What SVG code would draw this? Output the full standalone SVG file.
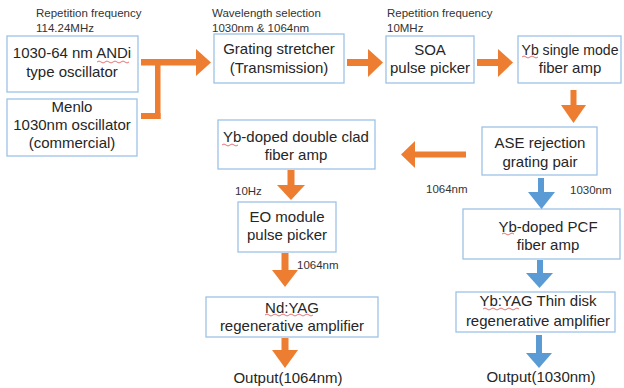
<svg xmlns="http://www.w3.org/2000/svg" width="624" height="388" viewBox="0 0 624 388">
<style>
.box{fill:#fff;stroke:#9DC3E6;stroke-width:1.3}
.t{font-family:"Liberation Sans",Arial,sans-serif;font-size:15px;fill:#262626;text-anchor:middle}
.s{font-family:"Liberation Sans",Arial,sans-serif;font-size:11.5px;fill:#333}
.o{fill:#ED7D31}
.b{fill:#5B9BD5}
.sq{fill:none;stroke:#E05050;stroke-width:0.8}
</style>
<rect width="624" height="388" fill="#fff"/>
<g id="labels">
<text class="s" x="36" y="17">Repetition frequency</text>
<text class="s" x="36" y="32">114.24MHz</text>
<text class="s" x="212" y="17">Wavelength selection</text>
<text class="s" x="212" y="32">1030nm &amp; 1064nm</text>
<text class="s" x="387" y="17">Repetition frequency</text>
<text class="s" x="387" y="32">10MHz</text>
<text class="s" x="426" y="193">1064nm</text>
<text class="s" x="570" y="194">1030nm</text>
<text class="s" x="235" y="195">10Hz</text>
<text class="s" x="297" y="269">1064nm</text>
</g>
<g id="andi">
<rect class="box" x="7" y="36" width="131" height="56"/>
<text class="t" x="72" y="58">1030-64 nm ANDi</text>
<text class="t" x="72" y="77">type oscillator</text>
<path class="sq" d="M97,62 q2,-2 4,0 t4,0 t4,0 t4,0 t4,0 t4,0 t4,0 t4,0"/>
</g>
<g id="menlo">
<rect class="box" x="7" y="99" width="130" height="57"/>
<text class="t" x="72" y="112">Menlo</text>
<text class="t" x="72" y="130">1030nm oscillator</text>
<text class="t" x="72" y="148">(commercial)</text>
</g>
<g id="stretcher">
<rect class="box" x="214" y="34" width="130" height="49"/>
<text class="t" x="279" y="54">Grating stretcher</text>
<text class="t" x="279" y="73">(Transmission)</text>
</g>
<g id="soa">
<rect class="box" x="386" y="36" width="88" height="47"/>
<text class="t" x="430" y="55">SOA</text>
<text class="t" x="430" y="73">pulse picker</text>
</g>
<g id="ybsm">
<rect class="box" x="518" y="36" width="103" height="47"/>
<text class="t" x="570" y="55" textLength="97" lengthAdjust="spacingAndGlyphs">Yb single mode</text>
<text class="t" x="570" y="73">fiber amp</text>
<path class="sq" d="M522,57 q2,-2 4,0 t4,0 t4,0 t4,0"/>
</g>
<g id="ase">
<rect class="box" x="482" y="127" width="115" height="48"/>
<text class="t" x="540" y="148">ASE rejection</text>
<text class="t" x="540" y="167">grating pair</text>
</g>
<g id="dclad">
<rect class="box" x="218" y="120" width="157" height="49"/>
<text class="t" x="296" y="142">Yb-doped double clad</text>
<text class="t" x="296" y="160">fiber amp</text>
<path class="sq" d="M222,145 q2,-2 4,0 t4,0 t4,0 t4,0"/>
</g>
<g id="eo">
<rect class="box" x="238" y="202" width="98" height="50"/>
<text class="t" x="287" y="222">EO module</text>
<text class="t" x="287" y="240">pulse picker</text>
</g>
<g id="ndyag">
<rect class="box" x="206" y="297" width="172" height="40"/>
<text class="t" x="292" y="313">Nd:YAG</text>
<text class="t" x="292" y="331">regenerative amplifier</text>
<path class="sq" d="M265,315 q2,-2 4,0 t4,0 t4,0 t4,0 t4,0 t4,0 t4,0 t4,0 t4,0 t4,0 t4,0 t4,0"/>
</g>
<g id="pcf">
<rect class="box" x="463" y="209" width="157" height="50"/>
<text class="t" x="548" y="232">Yb-doped PCF</text>
<text class="t" x="548" y="250">fiber amp</text>
<path class="sq" d="M502,234 q2,-2 4,0 t4,0 t4,0"/>
</g>
<g id="thindisk">
<rect class="box" x="456" y="292" width="159" height="40"/>
<text class="t" x="538" y="306">Yb:YAG Thin disk</text>
<text class="t" x="538" y="326">regenerative amplifier</text>
<path class="sq" d="M483,309 q2,-2 4,0 t4,0 t4,0 t4,0 t4,0 t4,0 t4,0 t4,0 t4,0"/>
</g>
<g id="out1064">
<text class="t" x="288" y="383">Output(1064nm)</text>
</g>
<g id="out1030">
<text class="t" x="541" y="382">Output(1030nm)</text>
</g>
<g id="connectors">
<rect class="o" x="141" y="59" width="56" height="6.5"/>
<polygon class="o" points="196,49 211,62.5 196,76"/>
<rect class="o" x="155" y="59" width="5.5" height="60"/>
<rect class="o" x="141" y="113" width="19.5" height="6"/>
<rect class="o" x="347" y="59" width="22" height="7"/>
<polygon class="o" points="368,49 383,62.5 368,77"/>
<rect class="o" x="477" y="59" width="22" height="7"/>
<polygon class="o" points="498,49 513,62.5 498,77"/>
<rect class="o" x="570.5" y="90" width="6" height="16"/>
<polygon class="o" points="561,105 586,105 573.5,123"/>
<rect class="o" x="414" y="151.5" width="52" height="6"/>
<polygon class="o" points="415,141 415,168 401,154.5"/>
<rect class="b" x="538" y="178" width="6" height="15"/>
<polygon class="b" points="528,192 555,192 541.5,209"/>
<rect class="b" x="537" y="260" width="6" height="14"/>
<polygon class="b" points="526,273 553,273 539.5,288"/>
<rect class="b" x="536" y="335" width="6" height="19"/>
<polygon class="b" points="526,353 552,353 539,368"/>
<rect class="o" x="287.5" y="170" width="7" height="16"/>
<polygon class="o" points="277,185 305,185 291,200"/>
<rect class="o" x="281.5" y="253" width="7" height="18"/>
<polygon class="o" points="272,270 298,270 285,287"/>
<rect class="o" x="281.5" y="338" width="7" height="13"/>
<polygon class="o" points="272,350 298,350 285,368"/>
</g>
</svg>
